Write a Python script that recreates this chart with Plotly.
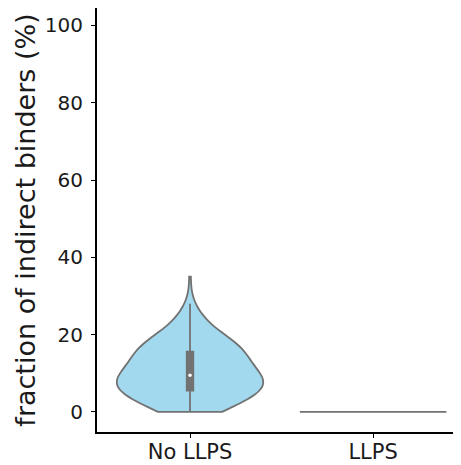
import numpy as np
import plotly.graph_objects as go

categories = ["No LLPS", "LLPS"]

# per-protein fractions (%) for the "No LLPS" group, read off the violin shape
no_llps_batch_a = [
    0, 0, 0, 0,
    0.3, 0.6, 0.9, 1.2, 1.5, 1.8, 2.0, 2.2, 2.4,
    2.6, 2.8, 3.0, 3.2, 3.4, 3.6, 3.8, 4.0, 4.1, 4.2, 4.4, 4.5, 4.7, 4.8, 5.0,
    5.1, 5.25, 5.4, 5.55, 5.7, 5.85, 6.0, 6.15, 6.3, 6.45, 6.6, 6.75, 6.9, 7.05, 7.2, 7.3, 7.45,
    7.55, 7.7, 7.8, 7.9, 8.0, 8.1, 8.2, 8.3, 8.4, 8.5, 8.6, 8.7, 8.8, 8.9, 9.05, 9.15, 9.35, 9.55, 9.75, 10.0,
    10.2, 10.4, 10.6, 10.8, 11.0, 11.2, 11.4, 11.6, 11.8, 12.0, 12.2, 12.35, 12.5,
    12.7, 12.9, 13.1, 13.4, 13.6, 13.8, 14.0, 14.3, 14.6, 14.9, 15.1, 15.3,
    15.5, 15.7, 15.9, 16.1, 16.3, 16.6, 16.8, 17.0, 17.2, 17.4,
    17.7, 18.0, 18.3, 18.6, 18.9, 19.2, 19.5, 19.8,
    20.3, 20.8, 21.3, 21.8, 22.4,
    23.0, 23.8, 24.7,
    25.6, 26.7, 28.0,
    35.0,
]
no_llps_batch_b = [
    0, 0, 0, 0,
    0.15, 0.45, 0.75, 1.05, 1.35, 1.65, 1.9, 2.1, 2.3,
    2.5, 2.7, 2.9, 3.1, 3.3, 3.5, 3.7, 3.9, 4.05, 4.15, 4.3, 4.45, 4.6, 4.75, 4.9,
    5.05, 5.2, 5.35, 5.5, 5.65, 5.8, 5.95, 6.1, 6.25, 6.4, 6.55, 6.7, 6.85, 7.0, 7.15, 7.25, 7.4,
    7.5, 7.65, 7.75, 7.85, 7.95, 8.05, 8.15, 8.25, 8.35, 8.45, 8.55, 8.65, 8.75, 8.85, 9.0, 9.1, 9.25, 9.45, 9.65, 9.9,
    10.1, 10.3, 10.5, 10.7, 10.9, 11.1, 11.3, 11.5, 11.7, 11.9, 12.1, 12.3, 12.45,
    12.55, 12.6, 12.8, 13.0, 13.25, 13.35, 13.5, 13.7, 13.9, 14.0, 14.15, 14.45, 14.6, 14.75, 15.0, 15.2,
    15.4, 15.45, 15.6, 15.8, 15.95, 16.0, 16.2, 16.45, 16.55, 16.7, 16.9, 17.0, 17.1, 17.3,
    17.55, 17.6, 17.85, 18.1, 18.15, 18.45, 18.6, 18.75, 19.05, 19.15, 19.35, 19.65,
    20.05, 20.55, 21.05, 21.55, 22.1,
    22.7, 23.4, 24.2,
    25.2, 26.1,
]
llps_values = [0, 0, 0, 0, 0, 0, 0, 0]

y_ticks = [0, 20, 40, 60, 80, 100]

no_llps_values = no_llps_batch_a + no_llps_batch_b

FILL = "#a2d9ef"
EDGE = "#727272"
TXT = "#1a1a1a"

fig = go.Figure()
fig.add_trace(go.Violin(
    x=[categories[0]] * len(no_llps_values), y=no_llps_values,
    spanmode="hard", width=0.8, scalemode="width", bandwidth=3.3,
    fillcolor=FILL, line=dict(color=EDGE, width=1.8),
    points=False,
    box=dict(visible=True, width=0.045, fillcolor=EDGE, line=dict(color=EDGE, width=1.8)),
    meanline=dict(visible=False),
    hoverinfo="skip", showlegend=False,
))
fig.add_trace(go.Violin(
    x=[categories[1]] * len(llps_values), y=llps_values,
    spanmode="hard", width=0.8, scalemode="width",
    fillcolor=FILL, line=dict(color=EDGE, width=1.8),
    points=False,
    box=dict(visible=False),
    hoverinfo="skip", showlegend=False,
))
fig.add_trace(go.Scatter(
    x=[categories[0]], y=[float(np.median(no_llps_values))],
    mode="markers", marker=dict(color="white", size=3.5),
    hoverinfo="skip", showlegend=False,
))

# the page body has an 8px margin, so the plot area is shifted 8px up/left
fig.update_layout(
    width=461, height=465,
    margin=dict(l=89, r=8, t=0, b=41),
    paper_bgcolor="white", plot_bgcolor="white",
    font=dict(family="DejaVu Sans", color=TXT),
    violingap=0, violinmode="overlay",
)
fig.update_xaxes(
    type="category", categoryorder="array", categoryarray=categories,
    range=[-0.508, 1.48], automargin=False,
    showline=True, linecolor="black", linewidth=2, mirror=False,
    ticks="outside", ticklen=4, tickcolor="black", tickwidth=1,
    ticklabelstandoff=-4,
    tickfont=dict(size=21, family="DejaVu Sans", color=TXT),
    showgrid=False, zeroline=False,
)
fig.update_yaxes(
    range=[-5.2, 104.5], automargin=False,
    tickvals=y_ticks, ticktext=[str(v) for v in y_ticks],
    showline=True, linecolor="black", linewidth=2,
    ticks="outside", ticklen=4, tickcolor="black", tickwidth=1,
    ticklabelstandoff=4,
    tickfont=dict(size=20, family="DejaVu Sans", color=TXT),
    title=dict(text="fraction of indirect binders (%)",
               font=dict(size=27, family="DejaVu Sans", color=TXT),
               standoff=1),
    showgrid=False, zeroline=False,
)

fig.write_html("out.html")
